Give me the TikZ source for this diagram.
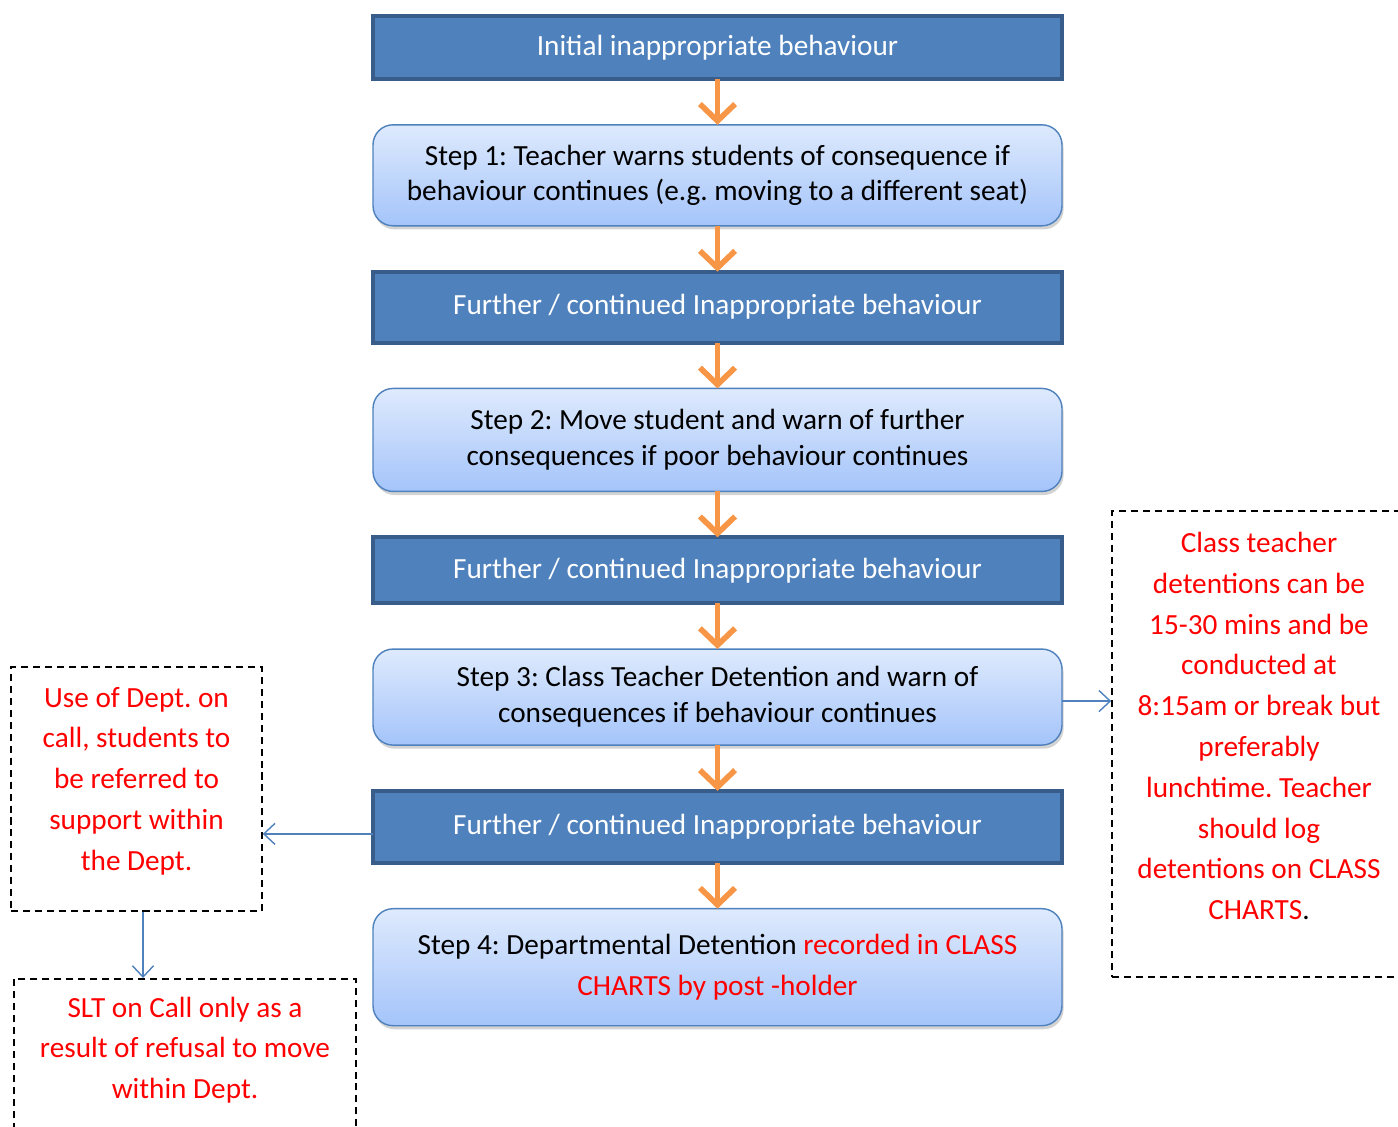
\documentclass[tikz,border=0pt]{standalone}
\usepackage{fontspec}
\setmainfont{Carlito}
\usetikzlibrary{positioning,arrows.meta,chains,shadows}
\definecolor{accent}{RGB}{79,129,189}
\definecolor{accentdark}{RGB}{56,93,138}
\definecolor{arroworange}{RGB}{247,150,70}
\definecolor{steptop}{RGB}{222,234,253}
\definecolor{stepbottom}{RGB}{164,196,250}
\def\px{0.025cm}
\def\boxwidth{17.22cm}
\tikzstyle{flow}=[-{Straight Barb[length=12pt,width=25pt]}, draw=arroworange, line width=4pt]
\tikzstyle{link}=[-{Straight Barb[length=8pt,width=15pt]}, draw=accent, line width=1pt]
\tikzstyle{block}=[inner sep=4pt, outer sep=0pt, text centered, align=center,
    minimum width=\boxwidth, font=\fontsize{20.8}{25.5}\selectfont]
\tikzstyle{behaviour}=[style=block, fill=accent, draw=accentdark, line width=3pt, text=white]
\tikzstyle{stepbox}=[style=block, rounded corners=0.5cm, draw=accent, line width=1pt,
    top color=steptop, bottom color=stepbottom,
    drop shadow={opacity=0.35, shadow xshift=0.04cm, shadow yshift=-0.09cm}]
\tikzstyle{note}=[draw=black, dash pattern=on 5pt off 3.5pt, line width=1.1pt]
\tikzstyle{notetext}=[text=red, align=center, font=\fontsize{20.8}{29}\selectfont]

\begin{document}
\frenchspacing
\begin{tikzpicture}[start chain=going below, node distance=1.145cm,
            behaviour/.append style={on chain, join=by {flow}},
            stepbox/.append style={on chain, join=by {flow}}]
    \useasboundingbox (0,0) rectangle (1398*\px,-1126*\px);
    % main column
    \node[behaviour, minimum height=63*\px] (initial) at (717.5*\px,-47.5*\px) {Initial inappropriate behaviour};
    \node[stepbox, minimum height=101*\px] (step1) {Step 1: Teacher warns students of consequence if\\ behaviour continues (e.g. moving to a different seat)};
    \node[behaviour, minimum height=71*\px] (further1) {Further / continued Inappropriate behaviour};
    \node[stepbox, minimum height=103*\px] (step2) {Step 2: Move student and warn of further\\ consequences if poor behaviour continues};
    \node[behaviour, minimum height=66*\px] (further2) {Further / continued Inappropriate behaviour};
    \node[stepbox, minimum height=96*\px] (step3) {Step 3: Class Teacher Detention and warn of\\ consequences if behaviour continues};
    \node[behaviour, minimum height=72*\px] (further3) {Further / continued Inappropriate behaviour};
    \node[stepbox, minimum height=117*\px, font=\fontsize{20.8}{29.5}\selectfont] (step4) {Step 4: Departmental Detention \textcolor{red}{recorded in CLASS}\\ \textcolor{red}{CHARTS by post -holder}};
    % side notes
    \node[note, minimum width=251*\px, minimum height=244*\px] (deptbox) at (136.5*\px,-789*\px) {};
    \node[notetext] (dept) at (136.5*\px,-781*\px) {Use of Dept. on\\ call, students to\\ be referred to\\ support within\\ the Dept.};
    \node[note, minimum width=342*\px, minimum height=200*\px, anchor=north] (sltbox) at (185*\px,-978*\px) {};
    \node[notetext] (slt) at (185*\px,-1050*\px) {SLT on Call only as a\\ result of refusal to move\\ within Dept.};
    \node[note, minimum width=294*\px, minimum height=466*\px] (rulebox) at (1259*\px,-744*\px) {};
    \node[notetext] (rule) at (1259*\px,-726*\px) {Class teacher\\ detentions can be\\ 15-30 mins and be\\ conducted at\\ 8:15am or break but\\ preferably\\ lunchtime. Teacher\\ should log\\ detentions on CLASS\\ CHARTS\textcolor{black}{.}};
    % links to notes
    \draw[link] ([yshift=-7*\px]further3.west) -- ([yshift=-7*\px]further3.west -| deptbox.east);
    \draw[link] ([xshift=6.5*\px]deptbox.south) -- ([xshift=6.5*\px]deptbox.south |- sltbox.north);
    \draw[link] ([yshift=-4*\px]step3.east) -- ([yshift=-4*\px]step3.east -| rulebox.west);
\end{tikzpicture}
\end{document}
